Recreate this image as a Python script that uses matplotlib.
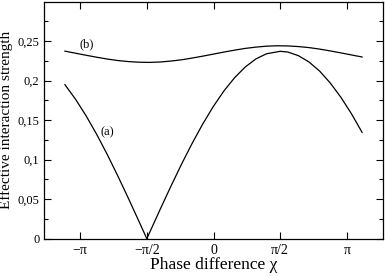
import numpy as np
import matplotlib
matplotlib.use("Agg")
import matplotlib.pyplot as plt

plt.rcParams['font.family'] = ['Liberation Serif', 'DejaVu Serif']

# Curve (a)
chi_a = [-3.5, -3.25, -3.0, -2.75, -2.5, -2.25, -2.0, -1.75, -1.5708, -1.25, -1.0,
         -0.75, -0.5, -0.25, 0.0, 0.25, 0.5, 0.75, 1.0, 1.25, 1.5708, 1.75, 2.0,
         2.25, 2.5, 2.75, 3.0, 3.25, 3.5]
strength_a = [0.1948, 0.1764, 0.1553, 0.1318, 0.1062, 0.0789, 0.0505, 0.0212, 0.0,
              0.0379, 0.0667, 0.0946, 0.1209, 0.1454, 0.1676, 0.1872, 0.2038,
              0.2173, 0.2274, 0.2339, 0.2370, 0.2361, 0.2315, 0.2235, 0.2120,
              0.1970, 0.1789, 0.1580, 0.1345]

# Curve (b)
chi_b = [-3.5, -3.25, -3.0, -2.75, -2.5, -2.25, -2.0, -1.75, -1.5, -1.25, -1.0,
         -0.75, -0.5, -0.25, 0.0, 0.25, 0.5, 0.75, 1.0, 1.25, 1.5, 1.75, 2.0,
         2.25, 2.5, 2.75, 3.0, 3.25, 3.5]
strength_b = [0.2372, 0.2346, 0.2320, 0.2295, 0.2272, 0.2253, 0.2240, 0.2232,
              0.2230, 0.2235, 0.2247, 0.2263, 0.2285, 0.2309, 0.2335, 0.2361,
              0.2385, 0.2407, 0.2423, 0.2435, 0.2440, 0.2438, 0.2430, 0.2417,
              0.2398, 0.2375, 0.2350, 0.2324, 0.2298]

xtick_pos = [-np.pi, -np.pi / 2, 0, np.pi / 2, np.pi]
xtick_labels = ['\u2212\u03c0', '\u2212\u03c0/2', '0', '\u03c0/2', '\u03c0']
ytick_pos = [0, 0.05, 0.1, 0.15, 0.2, 0.25]
ytick_labels = ['0', '0,05', '0,1', '0,15', '0,2', '0,25']

fig = plt.figure(figsize=(3.85, 2.76), dpi=100)
ax = fig.add_axes([43.7 / 385, 37.3 / 276, (383.3 - 43.7) / 385, (274.5 - 37.3) / 276])

ax.plot(chi_a, strength_a, color='black', lw=0.9)
ax.plot(chi_b, strength_b, color='black', lw=0.9)

ax.text(-2.49, 0.134, '(a)', fontsize=9, ha='center', va='center')
ax.text(-2.98, 0.246, '(b)', fontsize=9, ha='center', va='center')

ax.set_xlim(-4, 4)
ax.set_ylim(0, 0.3)
ax.set_xticks(xtick_pos)
ax.set_xticklabels(xtick_labels, fontsize=10)
ax.set_yticks(ytick_pos)
ax.set_yticklabels(ytick_labels, fontsize=9)
ax.set_yticks(np.arange(0.025, 0.3, 0.05), minor=True)

ax.tick_params(which='both', direction='in', top=True, right=True, width=0.8)
ax.tick_params(which='major', length=5, pad=3)
ax.tick_params(axis='x', which='major', pad=4)
ax.tick_params(which='minor', length=3)
for s in ax.spines.values():
    s.set_linewidth(0.9)

ax.set_xlabel('Phase difference \u03c7', fontsize=12.5, labelpad=0)
ax.set_ylabel('Effective interaction strength', fontsize=11, labelpad=3)

fig.savefig('out.png', dpi=100)
